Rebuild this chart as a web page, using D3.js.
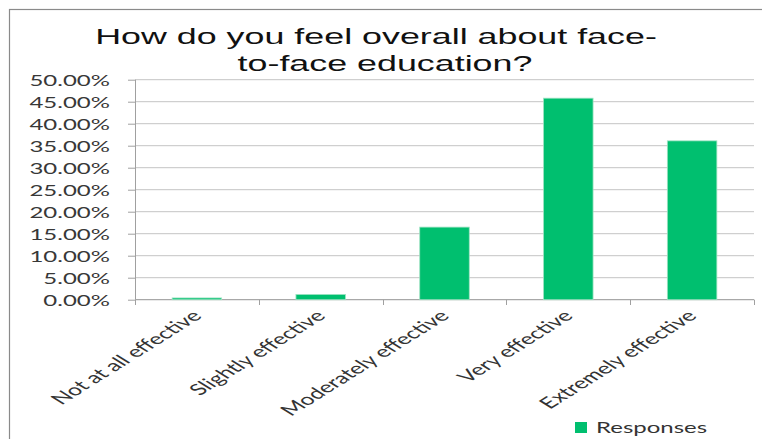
<!DOCTYPE html>
<html><head><meta charset="utf-8">
<script src="https://cdn.jsdelivr.net/npm/d3@7"></script>
<style>html,body{margin:0;padding:0;background:#fff;overflow:hidden}</style>
</head><body>
<svg id="c" width="762" height="439"></svg>
<script>
const titleLines = ["How do you feel overall about face-", "to-face education?"];
const categories = ["Not at all effective", "Slightly effective", "Moderately effective", "Very effective", "Extremely effective"];
const responses = [0.004, 0.012, 0.165, 0.458, 0.361];
const yTicks = [0, 0.05, 0.10, 0.15, 0.20, 0.25, 0.30, 0.35, 0.40, 0.45, 0.50];
const seriesName = "Responses";

const SX = 1.6; // horizontal stretch of the original picture's text
const svg = d3.select("#c");
const titleFont = "'Liberation Sans', Arial, sans-serif";
const font = "Lato, 'Open Sans', sans-serif";

svg.append("rect").attr("x", 9.5).attr("y", 9.5).attr("width", 800).attr("height", 500)
  .attr("fill", "#fff").attr("stroke", "#8a8a8a").attr("stroke-width", 1.2);

const x = d3.scaleBand().domain(categories).range([135, 754]).paddingInner(0.6).paddingOuter(0.3);
const y = d3.scaleLinear().domain([0, 0.5]).range([299.7, 79.7]);

// gridlines
svg.append("g").selectAll("line").data(yTicks.slice(1)).join("line")
  .attr("x1", 135).attr("x2", 754).attr("y1", d => y(d)).attr("y2", d => y(d))
  .attr("stroke", "#c4c4c4").attr("stroke-width", 1);

// y axis
const yAxis = svg.append("g").attr("transform", "translate(135,0)")
  .call(d3.axisLeft(y).tickValues(yTicks).tickSize(7).tickPadding(0).tickFormat(d3.format(".2%")));
yAxis.select(".domain").remove();
yAxis.selectAll(".tick line").attr("stroke", "#a0a0a0");
yAxis.selectAll(".tick text").attr("x", null).attr("dy", null)
  .attr("transform", `translate(-25,0) scale(${SX},1)`)
  .attr("dominant-baseline", "central")
  .attr("font-family", font).attr("font-size", 15).attr("fill", "#383838").attr("text-anchor", "end");
svg.append("line").attr("x1", 135.5).attr("x2", 135.5).attr("y1", y(0.5)).attr("y2", 305)
  .attr("stroke", "#a0a0a0");

// x axis line and ticks at band boundaries
svg.append("line").attr("x1", 135).attr("x2", 754).attr("y1", y(0)).attr("y2", y(0))
  .attr("stroke", "#a8a8a8").attr("stroke-width", 1.2);
const edges = [135].concat(categories.map(c => x(c) + x.bandwidth() / 2 + x.step() / 2));
svg.append("g").selectAll("line").data(edges).join("line")
  .attr("x1", d => Math.round(d) + 0.5).attr("x2", d => Math.round(d) + 0.5)
  .attr("y1", y(0)).attr("y2", 305).attr("stroke", "#a0a0a0");

// bars
svg.append("g").selectAll("rect").data(responses).join("rect")
  .attr("x", (d, i) => x(categories[i])).attr("width", x.bandwidth())
  .attr("y", d => y(d)).attr("height", d => y(0) - y(d))
  .attr("fill", "#00bf6f").attr("stroke", "#9fe3c3").attr("stroke-width", 0.8);

// x labels
svg.append("g").selectAll("text").data(categories).join("text")
  .attr("transform", d => `translate(${x(d) + x.bandwidth() / 2 + 6},317) scale(${SX},1) rotate(-45)`)
  .attr("text-anchor", "end").attr("font-family", font).attr("font-size", 15.5).attr("fill", "#333")
  .text(d => d);

// title
const tx = [376, 385];
svg.append("g").selectAll("text").data(titleLines).join("text")
  .attr("transform", (d, i) => `translate(${tx[i]},${44 + i * 27}) scale(${SX},1)`)
  .attr("text-anchor", "middle").attr("font-family", titleFont).attr("font-size", 22.4).attr("fill", "#111")
  .text(d => d);

// legend
svg.append("rect").attr("x", 575).attr("y", 422).attr("width", 12).attr("height", 11).attr("fill", "#00bf6f");
svg.append("text").attr("transform", `translate(596,433) scale(${SX},1)`)
  .attr("font-family", font).attr("font-size", 15).attr("fill", "#333").text(seriesName);
</script>
</body></html>
